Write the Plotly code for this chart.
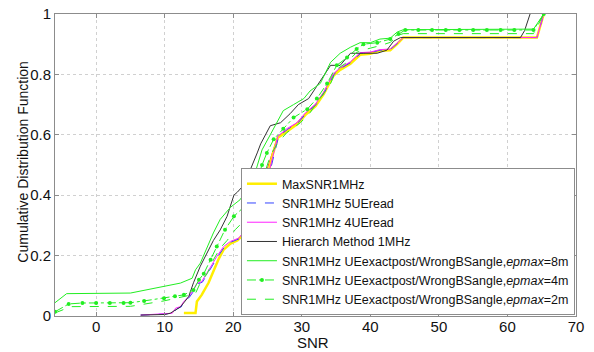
import plotly.graph_objects as go

# ---- data (SNR, CDF) ----
yellow_x = [12.8, 14.5, 14.7, 15.4, 16.4, 17.1, 17.9, 18.6, 19.6, 20.6, 21.5, 22.2, 23.2, 24.0, 25.0, 25.7, 26.5, 27.8, 29.3, 30.5, 32.0, 33.2, 34.6, 35.6, 37.1, 38.5, 40.0, 41.4, 42.9, 43.9, 44.8, 64.3, 65.3]
yellow_y = [0.01, 0.01, 0.048, 0.07, 0.11, 0.15, 0.19, 0.22, 0.24, 0.25, 0.27, 0.32, 0.35, 0.40, 0.46, 0.53, 0.59, 0.61, 0.635, 0.665, 0.695, 0.735, 0.795, 0.815, 0.835, 0.865, 0.868, 0.878, 0.88, 0.9, 0.922, 0.922, 1.0]

red_x = [24.3, 25.0, 25.7, 26.5, 27.8, 29.3, 30.5, 32.0, 33.2, 34.6, 35.6, 37.1, 38.5, 40.0, 41.4, 42.9, 43.9, 44.8, 64.3, 65.3]
red_y = [0.45, 0.49, 0.54, 0.595, 0.615, 0.64, 0.67, 0.70, 0.74, 0.80, 0.82, 0.84, 0.87, 0.872, 0.88, 0.882, 0.902, 0.922, 0.922, 1.0]

magenta_x = [6.5, 9.9, 11.1, 11.6, 12.3, 12.8, 13.5, 14.0, 14.5, 14.7, 15.4, 16.2, 16.9, 17.6, 18.6, 19.6, 20.8, 21.8, 22.5, 23.5, 24.4, 25.2, 25.9, 26.5, 27.8, 29.3, 30.5, 32.0, 33.2, 34.6, 35.6, 37.1, 38.5, 40.0, 41.4, 42.9, 43.9, 44.8, 64.3, 65.3]
magenta_y = [0.003, 0.006, 0.009, 0.026, 0.031, 0.048, 0.064, 0.08, 0.097, 0.108, 0.114, 0.142, 0.17, 0.197, 0.23, 0.247, 0.258, 0.286, 0.33, 0.363, 0.42, 0.474, 0.54, 0.595, 0.62, 0.64, 0.672, 0.702, 0.742, 0.802, 0.822, 0.842, 0.872, 0.874, 0.882, 0.884, 0.904, 0.922, 0.922, 1.0]

blue_x = [6.5, 9.9, 11.2, 11.8, 12.4, 12.9, 13.6, 14.1, 14.6, 14.8, 15.5, 16.3, 17.0, 17.7, 18.7, 19.7, 20.9, 21.9, 22.6, 23.6, 24.5, 25.3, 26.0, 26.6, 27.9, 29.4, 30.6, 32.1, 33.3, 34.7, 35.7, 37.2, 38.6, 40.0, 41.4, 42.9, 43.9, 44.8, 64.3, 65.3]
blue_y = [0.003, 0.005, 0.008, 0.024, 0.03, 0.046, 0.062, 0.078, 0.095, 0.106, 0.112, 0.14, 0.168, 0.195, 0.228, 0.245, 0.256, 0.284, 0.328, 0.361, 0.418, 0.472, 0.538, 0.593, 0.618, 0.638, 0.67, 0.70, 0.74, 0.80, 0.82, 0.84, 0.87, 0.872, 0.88, 0.882, 0.902, 0.922, 0.922, 1.0]

black_x = [6.5, 10.0, 10.8, 12.3, 13.5, 14.2, 15.2, 16.2, 17.1, 18.1, 19.1, 20.1, 20.6, 21.8, 22.5, 23.5, 24.0, 25.4, 26.9, 28.3, 29.5, 31.0, 32.2, 33.2, 34.2, 35.6, 37.1, 39.0, 41.0, 42.4, 43.4, 44.4, 61.9, 62.5, 63.3]
black_y = [0.003, 0.005, 0.009, 0.03, 0.064, 0.11, 0.165, 0.21, 0.25, 0.285, 0.33, 0.40, 0.41, 0.44, 0.485, 0.54, 0.57, 0.63, 0.64, 0.67, 0.70, 0.72, 0.76, 0.795, 0.83, 0.83, 0.87, 0.87, 0.87, 0.88, 0.91, 0.922, 0.922, 0.945, 1.0]

g8_x = [-6.0, -4.3, 5.0, 9.9, 12.3, 14.0, 14.5, 15.2, 16.2, 17.1, 18.1, 19.6, 21.0, 22.0, 23.0, 23.7, 24.2, 25.4, 27.3, 28.8, 30.3, 31.2, 32.7, 34.2, 35.6, 37.1, 38.5, 40.0, 41.4, 42.9, 43.9, 44.8, 62.6, 63.8, 65.3]
g8_y = [0.044, 0.074, 0.076, 0.097, 0.109, 0.125, 0.153, 0.175, 0.23, 0.275, 0.32, 0.36, 0.385, 0.42, 0.46, 0.51, 0.55, 0.60, 0.68, 0.70, 0.72, 0.745, 0.77, 0.84, 0.87, 0.89, 0.905, 0.905, 0.917, 0.92, 0.94, 0.948, 0.948, 0.95, 1.0]

g4_x = [-6.0, -4.0, -2.0, 0.0, 2.0, 4.0, 5.0, 7.0, 9.9, 11.5, 12.8, 14.2, 15.0, 15.7, 16.7, 17.6, 18.8, 20.1, 21.5, 22.5, 23.2, 24.2, 24.9, 25.9, 27.3, 28.8, 30.8, 32.2, 33.7, 35.1, 36.6, 38.0, 39.0, 41.0, 42.9, 44.1, 45.1, 47.0, 49.0, 51.0, 53.0, 55.0, 57.0, 59.0, 61.0, 63.8, 65.3]
g4_y = [0.014, 0.04, 0.043, 0.043, 0.043, 0.043, 0.044, 0.05, 0.059, 0.065, 0.07, 0.086, 0.12, 0.14, 0.186, 0.23, 0.286, 0.33, 0.36, 0.40, 0.43, 0.50, 0.54, 0.585, 0.62, 0.657, 0.685, 0.72, 0.77, 0.83, 0.856, 0.884, 0.90, 0.905, 0.917, 0.934, 0.947, 0.947, 0.947, 0.947, 0.947, 0.947, 0.947, 0.947, 0.947, 0.947, 1.0]

g2_x = [-6.0, -3.7, 5.0, 9.9, 13.3, 14.5, 15.2, 16.2, 17.1, 18.1, 19.1, 20.3, 21.8, 22.7, 23.7, 24.4, 25.4, 26.4, 27.8, 29.8, 31.2, 32.7, 34.2, 35.1, 36.6, 38.0, 39.5, 41.4, 42.9, 44.1, 44.8, 63.8, 65.3]
g2_y = [0.01, 0.031, 0.032, 0.05, 0.067, 0.075, 0.11, 0.14, 0.186, 0.225, 0.25, 0.286, 0.32, 0.363, 0.42, 0.46, 0.53, 0.57, 0.607, 0.64, 0.673, 0.72, 0.77, 0.817, 0.84, 0.873, 0.884, 0.895, 0.906, 0.93, 0.935, 0.935, 1.0]

x_ticks = [0, 10, 20, 30, 40, 50, 60, 70]
y_ticks = [0, 0.2, 0.4, 0.6, 0.8, 1]
y_tick_text = ["0", "0.2", "0.4", "0.6", "0.8", "1"]

fig = go.Figure()

GREEN = "#22ee22"
FONT = "Liberation Sans, Arial"

fig.add_trace(go.Scatter(x=red_x, y=red_y, mode="lines", showlegend=False,
                         line=dict(color="#ff3333", width=1)))
fig.add_trace(go.Scatter(x=yellow_x, y=yellow_y, mode="lines", name="MaxSNR1MHz",
                         line=dict(color="#ffee00", width=2.5)))
fig.add_trace(go.Scatter(x=blue_x, y=blue_y, mode="lines", name="SNR1MHz 5UEread",
                         line=dict(color="#3344ff", width=1, dash="dash")))
fig.add_trace(go.Scatter(x=magenta_x, y=magenta_y, mode="lines", name="SNR1MHz 4UEread",
                         line=dict(color="#ff22ff", width=1)))
fig.add_trace(go.Scatter(x=black_x, y=black_y, mode="lines", name="Hierarch Method 1MHz",
                         line=dict(color="#333333", width=1)))
fig.add_trace(go.Scatter(x=g8_x, y=g8_y, mode="lines",
                         name="SNR1MHz UEexactpost/WrongBSangle,<i>epmax</i>=8m",
                         line=dict(color=GREEN, width=1)))
fig.add_trace(go.Scatter(x=g4_x, y=g4_y, mode="lines+markers",
                         name="SNR1MHz UEexactpost/WrongBSangle,<i>epmax</i>=4m",
                         line=dict(color=GREEN, width=1, dash="dashdot"),
                         marker=dict(color=GREEN, size=4, symbol="circle")))
fig.add_trace(go.Scatter(x=g2_x, y=g2_y, mode="lines",
                         name="SNR1MHz UEexactpost/WrongBSangle,<i>epmax</i>=2m",
                         line=dict(color=GREEN, width=1, dash="dash")))

axis_common = dict(showline=True, linecolor="#8c8c8c", linewidth=1, mirror="ticks",
                   ticks="inside", ticklen=4, tickcolor="#8c8c8c",
                   showgrid=True, gridcolor="#d0d0d0", griddash="dot", gridwidth=1,
                   zeroline=False, automargin=False,
                   tickfont=dict(family=FONT, size=15, color="#111"))

fig.update_xaxes(range=[-6, 70], tickvals=x_ticks, ticklabelstandoff=-3, **axis_common)
fig.update_yaxes(range=[0, 1], tickvals=y_ticks, ticktext=y_tick_text, **axis_common)

fig.add_annotation(text="SNR", xref="paper", yref="paper", x=0.495, y=-0.087,
                   xanchor="center", yanchor="middle", showarrow=False, borderpad=0,
                   font=dict(family=FONT, size=15, color="#111"))
fig.add_annotation(text="Cumulative Distribution Function", xref="paper", yref="paper",
                   x=-0.062, y=0.51, textangle=-90, xanchor="center", yanchor="middle",
                   showarrow=False, font=dict(family=FONT, size=14, color="#111"))

fig.update_layout(
    width=594, height=352,
    margin=dict(l=55, r=18, t=14, b=36),
    paper_bgcolor="white", plot_bgcolor="white",
    legend=dict(x=0.998, y=0.003, xanchor="right", yanchor="bottom",
                bgcolor="white", bordercolor="#8c8c8c", borderwidth=1,
                font=dict(family=FONT, size=12.5, color="#111"),
                tracegroupgap=0, itemwidth=30),
    font=dict(family=FONT),
)

fig.write_html("out.html")
